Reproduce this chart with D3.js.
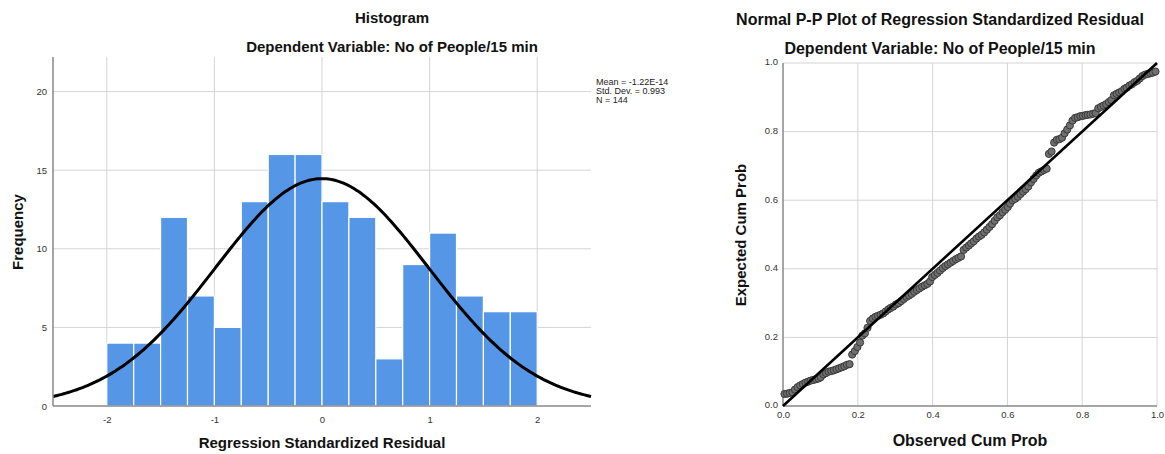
<!DOCTYPE html>
<html>
<head>
<meta charset="utf-8">
<script src="https://cdn.jsdelivr.net/npm/d3@7"></script>
<style>
  body { margin: 0; background: #fff; }
  svg text { font-family: "Liberation Sans", Arial, sans-serif; }
  .tick text { fill: #333; font-size: 9.5px; }
  .grid line { stroke: #d4d4d4; stroke-width: 1; }
  .title { font-weight: bold; fill: #111; }
  .axis-title { font-weight: bold; fill: #111; }
  .stats { font-size: 9px; fill: #222; }
</style>
</head>
<body>
<div id="chart"></div>
<script>
// histogram bins (lower edges, width 0.25) and counts
var binStart = [-2, -1.75, -1.5, -1.25, -1, -0.75, -0.5, -0.25, 0, 0.25, 0.5, 0.75, 1, 1.25, 1.5, 1.75];
var binCounts = [4, 4, 12, 7, 5, 13, 16, 16, 13, 12, 3, 9, 11, 7, 6, 6];
var binWidth = 0.25;
var histXTicks = [-2, -1, 0, 1, 2];
var histYTicks = [0, 5, 10, 15, 20];

// stats shown next to the histogram
var resMean = -1.22e-14;
var resSd = 0.993;
var resN = 144;
var statsLines = ["Mean = -1.22E-14", "Std. Dev. = 0.993", "N = 144"];

// P-P plot points
var ppObserved = [
  0.004, 0.011, 0.018, 0.025, 0.032, 0.039, 0.046, 0.053, 0.060, 0.067,
  0.074, 0.081, 0.088, 0.095, 0.101, 0.108, 0.115, 0.122, 0.129, 0.136,
  0.143, 0.150, 0.157, 0.164, 0.171, 0.178, 0.185, 0.192, 0.199, 0.206,
  0.212, 0.219, 0.226, 0.233, 0.240, 0.247, 0.254, 0.261, 0.268, 0.275,
  0.282, 0.288, 0.295, 0.302, 0.309, 0.316, 0.323, 0.330, 0.337, 0.344,
  0.351, 0.358, 0.365, 0.372, 0.379, 0.386, 0.393, 0.399, 0.406, 0.413,
  0.420, 0.427, 0.434, 0.441, 0.448, 0.455, 0.462, 0.469, 0.476, 0.483,
  0.490, 0.497, 0.503, 0.510, 0.517, 0.524, 0.531, 0.538, 0.545, 0.552,
  0.559, 0.566, 0.573, 0.580, 0.587, 0.594, 0.601, 0.607, 0.614, 0.621,
  0.628, 0.635, 0.642, 0.649, 0.656, 0.663, 0.670, 0.677, 0.684, 0.691,
  0.698, 0.705, 0.711, 0.718, 0.725, 0.732, 0.739, 0.746, 0.753, 0.760,
  0.767, 0.774, 0.781, 0.788, 0.795, 0.802, 0.809, 0.815, 0.822, 0.829,
  0.836, 0.843, 0.850, 0.857, 0.864, 0.871, 0.878, 0.885, 0.892, 0.899,
  0.906, 0.913, 0.919, 0.926, 0.933, 0.940, 0.947, 0.954, 0.961, 0.968,
  0.975, 0.982, 0.989, 0.996
];
var ppExpected = [
  0.035, 0.036, 0.038, 0.040, 0.048, 0.055, 0.060, 0.064, 0.068, 0.071,
  0.074, 0.076, 0.078, 0.080, 0.084, 0.092, 0.096, 0.100, 0.102, 0.104,
  0.107, 0.110, 0.113, 0.116, 0.120, 0.122, 0.150, 0.160, 0.172, 0.185,
  0.205, 0.212, 0.228, 0.248, 0.255, 0.260, 0.263, 0.266, 0.270, 0.276,
  0.282, 0.286, 0.290, 0.296, 0.300, 0.306, 0.312, 0.318, 0.322, 0.327,
  0.333, 0.338, 0.343, 0.348, 0.352, 0.356, 0.363, 0.376, 0.382, 0.388,
  0.395, 0.402, 0.408, 0.413, 0.418, 0.423, 0.428, 0.432, 0.436, 0.455,
  0.462, 0.468, 0.474, 0.480, 0.488, 0.494, 0.499, 0.506, 0.514, 0.522,
  0.530, 0.540, 0.550, 0.556, 0.565, 0.572, 0.580, 0.590, 0.600, 0.604,
  0.610, 0.618, 0.625, 0.632, 0.640, 0.652, 0.662, 0.672, 0.680, 0.684,
  0.688, 0.692, 0.735, 0.742, 0.768, 0.776, 0.778, 0.782, 0.795, 0.806,
  0.818, 0.832, 0.840, 0.842, 0.845, 0.846, 0.848, 0.849, 0.850, 0.852,
  0.854, 0.868, 0.872, 0.876, 0.880, 0.886, 0.892, 0.906, 0.910, 0.914,
  0.918, 0.925, 0.928, 0.934, 0.938, 0.944, 0.948, 0.955, 0.962, 0.966,
  0.968, 0.970, 0.972, 0.975
];
var ppTicks = [0, 0.2, 0.4, 0.6, 0.8, 1.0];

var svg = d3.select("#chart").append("svg")
    .attr("width", 1165)
    .attr("height", 454);

// ---------- Histogram ----------
var hx = d3.scaleLinear().domain([-2.5, 2.5]).range([53, 591]);
var hy = d3.scaleLinear().domain([0, 22.2]).range([406, 57]);

var hist = svg.append("g");

// grid
hist.append("g").attr("class", "grid")
  .selectAll("line").data(histXTicks).enter().append("line")
  .attr("x1", d => hx(d)).attr("x2", d => hx(d))
  .attr("y1", hy.range()[1]).attr("y2", hy(0));
hist.append("g").attr("class", "grid")
  .selectAll("line").data(histYTicks.slice(1)).enter().append("line")
  .attr("x1", hx.range()[0]).attr("x2", hx.range()[1])
  .attr("y1", d => hy(d)).attr("y2", d => hy(d));

// bars
hist.append("g").selectAll("rect")
  .data(binStart).enter().append("rect")
  .attr("x", d => hx(d))
  .attr("width", d => hx(d + binWidth) - hx(d))
  .attr("y", (d, i) => hy(binCounts[i]))
  .attr("height", (d, i) => hy(0) - hy(binCounts[i]))
  .attr("fill", "#5596e6")
  .attr("stroke", "#ffffff")
  .attr("stroke-width", 1.2);

// normal curve
var curveX = d3.range(-2.5, 2.5001, 0.02);
var pdf = x => Math.exp(-0.5 * Math.pow((x - resMean) / resSd, 2)) / (resSd * Math.sqrt(2 * Math.PI));
hist.append("path")
  .datum(curveX)
  .attr("fill", "none")
  .attr("stroke", "#000")
  .attr("stroke-width", 3)
  .attr("d", d3.line().x(d => hx(d)).y(d => hy(resN * binWidth * pdf(d))));

// axes
var hAxisX = hist.append("g")
  .attr("transform", `translate(0, ${hy(0)})`)
  .call(d3.axisBottom(hx).tickValues(histXTicks).tickFormat(d => String(d)).tickSize(0).tickPadding(10));
var hAxisY = hist.append("g")
  .attr("transform", `translate(${hx.range()[0]}, 0)`)
  .call(d3.axisLeft(hy).tickValues(histYTicks).tickFormat(d => String(d)).tickSize(0).tickPadding(6));
[hAxisX, hAxisY].forEach(a => a.select(".domain").attr("stroke", "#888").attr("stroke-width", 1.5));
hAxisX.select(".domain").attr("d", `M${hx.range()[0]},0H${hx.range()[1]}`);
hAxisY.select(".domain").attr("d", `M0,${hy.range()[1]}V${hy(0)}`);

hist.append("text").attr("class", "title")
  .attr("x", 392).attr("y", 23).attr("text-anchor", "middle")
  .style("font-size", "15px")
  .text("Histogram");
hist.append("text").attr("class", "title")
  .attr("x", 392).attr("y", 52).attr("text-anchor", "middle")
  .style("font-size", "15px")
  .text("Dependent Variable: No of People/15 min");
hist.append("text").attr("class", "axis-title")
  .attr("x", 322).attr("y", 448).attr("text-anchor", "middle")
  .style("font-size", "15px")
  .text("Regression Standardized Residual");
hist.append("text").attr("class", "axis-title")
  .attr("transform", "rotate(-90)")
  .attr("x", -232).attr("y", 23).attr("text-anchor", "middle")
  .style("font-size", "15px")
  .text("Frequency");

hist.append("g").selectAll("text")
  .data(statsLines).enter().append("text")
  .attr("class", "stats")
  .attr("x", 596)
  .attr("y", (d, i) => 85 + i * 9)
  .text(d => d);

// ---------- Normal P-P plot ----------
var px = d3.scaleLinear().domain([0, 1]).range([783, 1157]);
var py = d3.scaleLinear().domain([0, 1]).range([406, 63]);

var pp = svg.append("g");

pp.append("g").attr("class", "grid")
  .selectAll("line").data(ppTicks.slice(1)).enter().append("line")
  .attr("x1", d => px(d)).attr("x2", d => px(d))
  .attr("y1", py(1)).attr("y2", py(0));
pp.append("g").attr("class", "grid")
  .selectAll("line").data(ppTicks.slice(1)).enter().append("line")
  .attr("x1", px(0)).attr("x2", px(1))
  .attr("y1", d => py(d)).attr("y2", d => py(d));

var pAxisX = pp.append("g")
  .attr("transform", `translate(0, ${py(0)})`)
  .call(d3.axisBottom(px).tickValues(ppTicks).tickFormat(d3.format(".1f")).tickSize(0).tickPadding(5));
var pAxisY = pp.append("g")
  .attr("transform", `translate(${px(0)}, 0)`)
  .call(d3.axisLeft(py).tickValues(ppTicks).tickFormat(d3.format(".1f")).tickSize(0).tickPadding(5));
[pAxisX, pAxisY].forEach(a => a.select(".domain").attr("stroke", "#888").attr("stroke-width", 1.5));
pAxisX.select(".domain").attr("d", `M${px(0)},0H${px(1)}`);
pAxisY.select(".domain").attr("d", `M0,${py(1)}V${py(0)}`);
pAxisY.selectAll(".tick text").attr("dy", "0.2em");

// points
pp.append("g").selectAll("circle")
  .data(ppObserved).enter().append("circle")
  .attr("cx", d => px(d))
  .attr("cy", (d, i) => py(ppExpected[i]))
  .attr("r", 3.6)
  .attr("fill", "#6f6f6f")
  .attr("stroke", "#3a3a3a")
  .attr("stroke-width", 1);

// reference line
pp.append("line")
  .attr("x1", px(0)).attr("y1", py(0))
  .attr("x2", px(1)).attr("y2", py(1))
  .attr("stroke", "#000")
  .attr("stroke-width", 2.6);

pp.append("text").attr("class", "title")
  .attr("x", 940).attr("y", 25).attr("text-anchor", "middle")
  .style("font-size", "16px")
  .text("Normal P-P Plot of Regression Standardized Residual");
pp.append("text").attr("class", "title")
  .attr("x", 940).attr("y", 54).attr("text-anchor", "middle")
  .style("font-size", "16px")
  .text("Dependent Variable: No of People/15 min");
pp.append("text").attr("class", "axis-title")
  .attr("x", 970).attr("y", 446).attr("text-anchor", "middle")
  .style("font-size", "16px")
  .text("Observed Cum Prob");
pp.append("text").attr("class", "axis-title")
  .attr("transform", "rotate(-90)")
  .attr("x", -235).attr("y", 746).attr("text-anchor", "middle")
  .style("font-size", "15px")
  .text("Expected Cum Prob");
</script>
</body>
</html>
